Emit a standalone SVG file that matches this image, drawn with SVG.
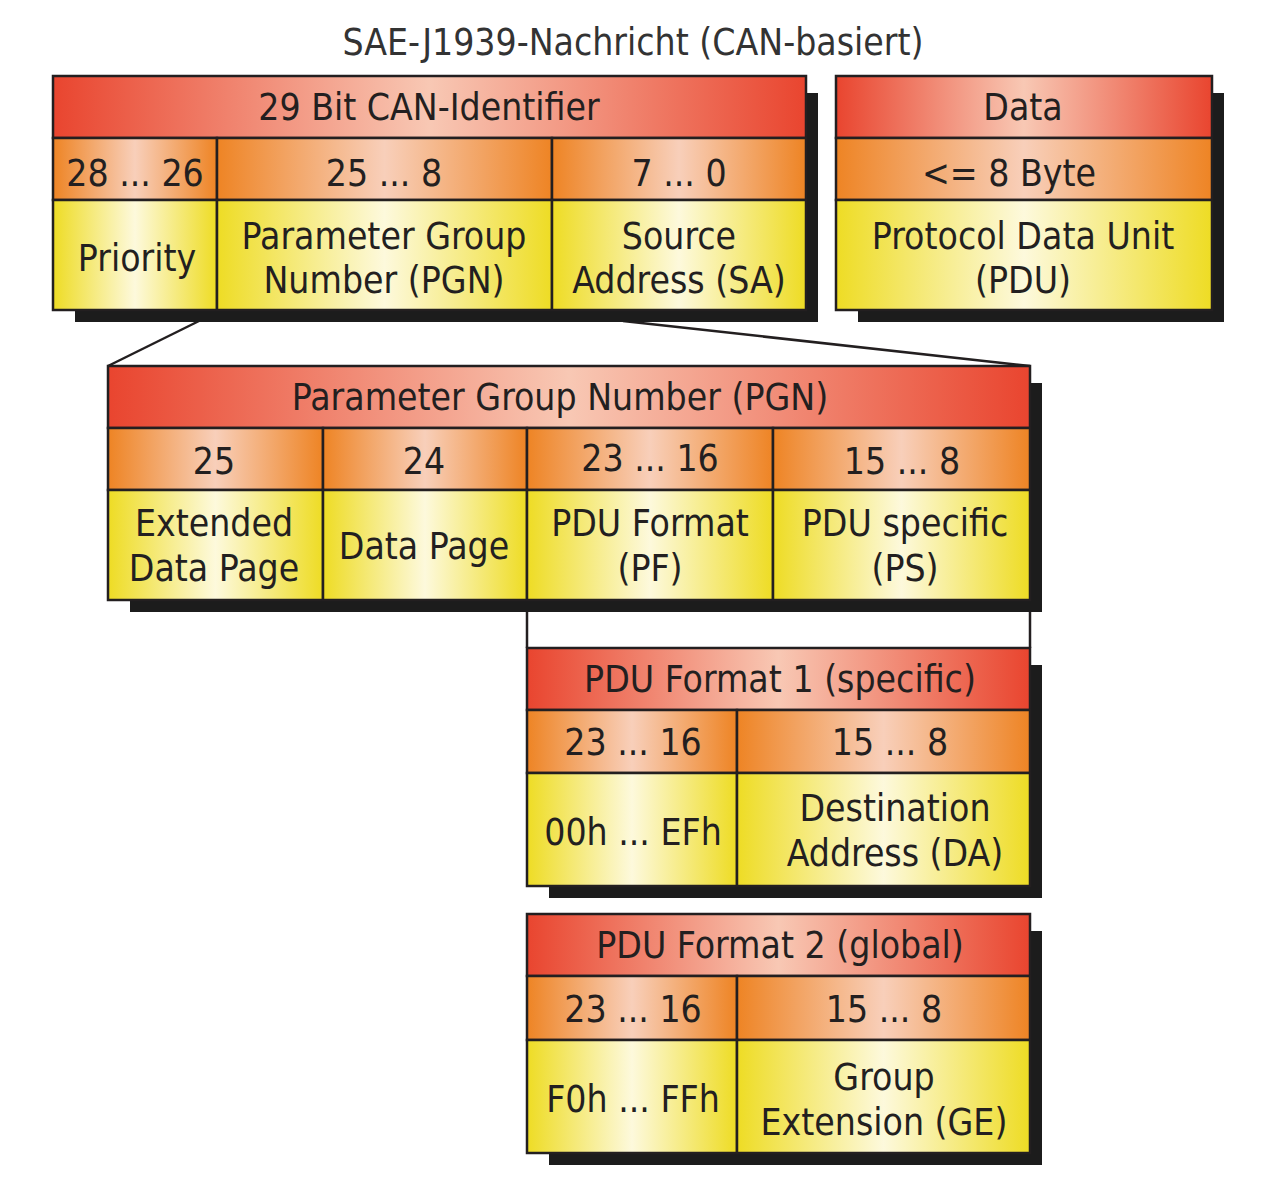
<svg xmlns="http://www.w3.org/2000/svg" width="1280" height="1190" viewBox="0 0 1280 1190">
<defs>
<linearGradient id="gR" x1="0" y1="0" x2="1" y2="0"><stop offset="0" stop-color="#e9452f"/><stop offset="0.5" stop-color="#f8c8b4"/><stop offset="1" stop-color="#e9452f"/></linearGradient>
<linearGradient id="gO" x1="0" y1="0" x2="1" y2="0"><stop offset="0" stop-color="#ee8424"/><stop offset="0.5" stop-color="#f8cfba"/><stop offset="1" stop-color="#ee8424"/></linearGradient>
<linearGradient id="gY" x1="0" y1="0" x2="1" y2="0"><stop offset="0" stop-color="#eedc24"/><stop offset="0.5" stop-color="#fdf9dc"/><stop offset="1" stop-color="#eedc24"/></linearGradient>
</defs>
<style>
.r{fill:url(#gR);stroke:#231f20;stroke-width:2.5}
.o{fill:url(#gO);stroke:#231f20;stroke-width:2.5}
.y{fill:url(#gY);stroke:#231f20;stroke-width:2.5}
.sh{fill:#1c1c1c}
text{font-family:"Liberation Sans Narrow","DejaVu Sans Condensed","Liberation Sans",sans-serif;font-size:37px;fill:#231f20;text-anchor:middle}
.t{fill:#333}
.c{stroke:#231f20;stroke-width:2.5;fill:none}
</style>
<rect width="1280" height="1190" fill="#ffffff"/>
<text class="t" x="633" y="55">SAE-J1939-Nachricht (CAN-basiert)</text>

<g id="connectors">
<line class="c" x1="199" y1="321" x2="108" y2="366"/>
<line class="c" x1="623" y1="321" x2="1030" y2="366"/>
<line class="c" x1="527" y1="600" x2="527" y2="648"/>
<line class="c" x1="1030" y1="600" x2="1030" y2="648"/>
</g>

<g id="can-identifier">
<rect class="sh" x="75" y="93" width="743" height="229"/>
<rect class="r" x="53" y="76" width="753" height="62"/>
<rect class="o" x="53" y="138" width="164" height="62"/>
<rect class="o" x="217" y="138" width="335" height="62"/>
<rect class="o" x="552" y="138" width="254" height="62"/>
<rect class="y" x="53" y="200" width="164" height="110"/>
<rect class="y" x="217" y="200" width="335" height="110"/>
<rect class="y" x="552" y="200" width="254" height="110"/>
<text x="429" y="120">29 Bit CAN-Identifier</text>
<text x="135" y="186">28 ... 26</text>
<text x="384" y="186">25 ... 8</text>
<text x="679" y="186">7 ... 0</text>
<text x="137" y="271">Priority</text>
<text x="384" y="249">Parameter Group</text>
<text x="384" y="293">Number (PGN)</text>
<text x="679" y="249">Source</text>
<text x="679" y="293">Address (SA)</text>
</g>

<g id="data">
<rect class="sh" x="858" y="93" width="366" height="229"/>
<rect class="r" x="836" y="76" width="376" height="62"/>
<rect class="o" x="836" y="138" width="376" height="62"/>
<rect class="y" x="836" y="200" width="376" height="110"/>
<text x="1023" y="120">Data</text>
<text x="1009" y="186">&lt;= 8 Byte</text>
<text x="1023" y="249">Protocol Data Unit</text>
<text x="1023" y="293">(PDU)</text>
</g>

<g id="pgn">
<rect class="sh" x="130" y="383" width="912" height="229"/>
<rect class="r" x="108" y="366" width="922" height="62"/>
<rect class="o" x="108" y="428" width="215" height="62"/>
<rect class="o" x="323" y="428" width="204" height="62"/>
<rect class="o" x="527" y="428" width="246" height="62"/>
<rect class="o" x="773" y="428" width="257" height="62"/>
<rect class="y" x="108" y="490" width="215" height="110"/>
<rect class="y" x="323" y="490" width="204" height="110"/>
<rect class="y" x="527" y="490" width="246" height="110"/>
<rect class="y" x="773" y="490" width="257" height="110"/>
<text x="560" y="410">Parameter Group Number (PGN)</text>
<text x="214" y="474">25</text>
<text x="424" y="474">24</text>
<text x="650" y="471">23 ... 16</text>
<text x="902" y="474">15 ... 8</text>
<text x="214" y="536">Extended</text>
<text x="214" y="581">Data Page</text>
<text x="424" y="559">Data Page</text>
<text x="650" y="536">PDU Format</text>
<text x="650" y="581">(PF)</text>
<text x="905" y="536">PDU specific</text>
<text x="905" y="581">(PS)</text>
</g>

<g id="pdu-format-1">
<rect class="sh" x="549" y="665" width="493" height="233"/>
<rect class="r" x="527" y="648" width="503" height="62"/>
<rect class="o" x="527" y="710" width="210" height="63"/>
<rect class="o" x="737" y="710" width="293" height="63"/>
<rect class="y" x="527" y="773" width="210" height="113"/>
<rect class="y" x="737" y="773" width="293" height="113"/>
<text x="780" y="692">PDU Format 1 (specific)</text>
<text x="633" y="755">23 ... 16</text>
<text x="890" y="755">15 ... 8</text>
<text x="633" y="845">00h ... EFh</text>
<text x="895" y="821">Destination</text>
<text x="895" y="866">Address (DA)</text>
</g>

<g id="pdu-format-2">
<rect class="sh" x="549" y="931" width="493" height="234"/>
<rect class="r" x="527" y="914" width="503" height="62"/>
<rect class="o" x="527" y="976" width="210" height="64"/>
<rect class="o" x="737" y="976" width="293" height="64"/>
<rect class="y" x="527" y="1040" width="210" height="113"/>
<rect class="y" x="737" y="1040" width="293" height="113"/>
<text x="780" y="958">PDU Format 2 (global)</text>
<text x="633" y="1022">23 ... 16</text>
<text x="884" y="1022">15 ... 8</text>
<text x="633" y="1112">F0h ... FFh</text>
<text x="884" y="1090">Group</text>
<text x="884" y="1135">Extension (GE)</text>
</g>
</svg>
